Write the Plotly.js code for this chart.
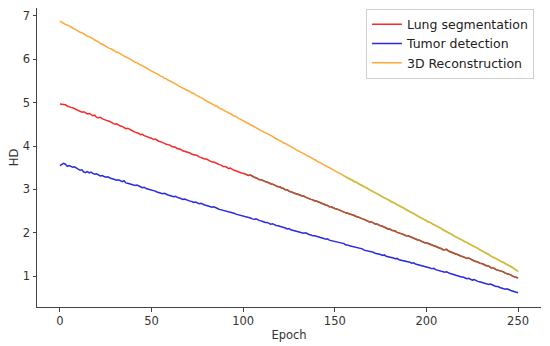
<!DOCTYPE html>
<html>
<head>
<meta charset="utf-8">
<script src="https://cdn.plot.ly/plotly-3.0.1.min.js"></script>
<style>html,body{margin:0;padding:0;background:#fff}#chart{width:550px;height:346px}</style>
</head>
<body>
<div id="chart"></div>
<script>
const seriesNames = ["Lung segmentation", "Tumor detection", "3D Reconstruction"];
const lungHD = [
4.97,4.96,4.95,4.95,4.92,4.90,4.89,4.88,4.86,4.85,
4.82,4.80,4.78,4.79,4.77,4.74,4.75,4.72,4.70,4.71,
4.66,4.65,4.66,4.63,4.61,4.60,4.58,4.57,4.55,4.53,
4.50,4.51,4.48,4.46,4.45,4.43,4.40,4.41,4.38,4.36,
4.34,4.32,4.31,4.29,4.26,4.27,4.24,4.22,4.21,4.19,
4.18,4.15,4.16,4.13,4.11,4.10,4.07,4.06,4.04,4.03,
4.02,3.99,3.98,3.97,3.94,3.93,3.92,3.89,3.88,3.86,
3.85,3.84,3.81,3.80,3.78,3.78,3.75,3.73,3.72,3.70,
3.70,3.67,3.66,3.63,3.63,3.60,3.59,3.57,3.56,3.53,
3.53,3.51,3.48,3.49,3.46,3.44,3.43,3.41,3.40,3.38,
3.37,3.35,3.34,3.32,3.33,3.30,3.28,3.27,3.25,3.22,
3.22,3.19,3.18,3.17,3.14,3.13,3.12,3.09,3.08,3.06,
3.06,3.03,3.02,2.99,2.99,2.96,2.95,2.93,2.91,2.90,
2.89,2.87,2.85,2.85,2.82,2.80,2.79,2.77,2.76,2.73,
2.73,2.71,2.70,2.67,2.66,2.64,2.63,2.60,2.60,2.57,
2.56,2.55,2.53,2.51,2.50,2.48,2.46,2.45,2.43,2.42,
2.41,2.38,2.37,2.36,2.33,2.32,2.31,2.28,2.27,2.25,
2.25,2.23,2.20,2.20,2.17,2.16,2.15,2.12,2.11,2.09,
2.09,2.06,2.05,2.04,2.01,2.00,1.98,1.97,1.95,1.93,
1.93,1.91,1.89,1.88,1.86,1.84,1.83,1.81,1.80,1.77,
1.77,1.75,1.73,1.72,1.70,1.69,1.66,1.65,1.64,1.61,
1.61,1.62,1.58,1.56,1.55,1.53,1.51,1.50,1.47,1.46,
1.45,1.43,1.41,1.42,1.39,1.37,1.35,1.34,1.33,1.30,
1.29,1.28,1.25,1.24,1.23,1.20,1.19,1.18,1.15,1.14,
1.13,1.11,1.10,1.07,1.06,1.04,1.03,1.00,0.99,0.97,0.96
];
const tumorHD = [
3.55,3.57,3.60,3.58,3.53,3.55,3.52,3.51,3.52,3.49,
3.47,3.44,3.45,3.40,3.39,3.41,3.38,3.40,3.37,3.35,
3.36,3.33,3.31,3.32,3.30,3.28,3.29,3.26,3.25,3.24,
3.23,3.21,3.22,3.19,3.18,3.20,3.15,3.14,3.13,3.12,
3.10,3.09,3.10,3.07,3.06,3.04,3.05,3.02,3.01,3.00,
2.98,2.97,2.96,2.94,2.93,2.92,2.90,2.91,2.88,2.87,
2.86,2.85,2.83,2.84,2.81,2.80,2.79,2.77,2.78,2.76,
2.74,2.73,2.72,2.70,2.71,2.68,2.67,2.68,2.65,2.64,
2.63,2.62,2.60,2.59,2.60,2.57,2.56,2.54,2.53,2.52,
2.51,2.50,2.48,2.47,2.47,2.45,2.43,2.42,2.41,2.40,
2.39,2.37,2.36,2.36,2.34,2.32,2.31,2.32,2.29,2.28,
2.27,2.25,2.24,2.24,2.22,2.20,2.21,2.18,2.17,2.16,
2.15,2.14,2.12,2.11,2.09,2.10,2.07,2.06,2.05,2.04,
2.03,2.02,2.00,1.99,2.00,1.97,1.96,1.95,1.93,1.93,
1.92,1.90,1.89,1.89,1.87,1.85,1.86,1.83,1.82,1.81,
1.80,1.79,1.78,1.76,1.75,1.75,1.72,1.72,1.70,1.69,
1.68,1.67,1.66,1.64,1.63,1.63,1.60,1.59,1.59,1.57,
1.56,1.55,1.53,1.52,1.52,1.50,1.48,1.49,1.46,1.45,
1.45,1.43,1.42,1.40,1.41,1.38,1.37,1.37,1.35,1.34,
1.33,1.32,1.30,1.31,1.28,1.27,1.26,1.25,1.23,1.22,
1.21,1.20,1.19,1.17,1.18,1.15,1.14,1.13,1.12,1.10,
1.09,1.10,1.07,1.06,1.05,1.03,1.02,1.01,0.99,0.98,
0.98,0.96,0.94,0.95,0.93,0.91,0.92,0.89,0.88,0.87,
0.86,0.85,0.84,0.82,0.81,0.82,0.79,0.78,0.76,0.76,
0.74,0.73,0.72,0.70,0.71,0.68,0.67,0.66,0.64,0.63,0.62
];
const reconHD = [
6.88,6.85,6.84,6.80,6.79,6.76,6.74,6.72,6.70,6.67,
6.65,6.62,6.61,6.58,6.56,6.53,6.52,6.49,6.47,6.44,
6.42,6.40,6.36,6.35,6.32,6.30,6.28,6.25,6.24,6.21,
6.19,6.16,6.15,6.12,6.10,6.07,6.05,6.03,6.01,5.98,
5.96,5.93,5.92,5.89,5.87,5.84,5.82,5.80,5.78,5.75,
5.73,5.71,5.68,5.66,5.64,5.61,5.60,5.56,5.55,5.52,
5.50,5.47,5.45,5.43,5.41,5.38,5.36,5.34,5.32,5.29,
5.27,5.25,5.22,5.21,5.18,5.16,5.13,5.11,5.09,5.06,
5.04,5.01,5.00,4.97,4.95,4.92,4.91,4.87,4.86,4.83,
4.81,4.79,4.76,4.74,4.72,4.69,4.68,4.65,4.63,4.60,
4.58,4.56,4.53,4.52,4.49,4.47,4.45,4.42,4.40,4.37,
4.35,4.33,4.30,4.29,4.26,4.24,4.22,4.19,4.17,4.14,
4.12,4.10,4.07,4.06,4.03,4.01,3.99,3.96,3.94,3.91,
3.89,3.87,3.84,3.82,3.80,3.77,3.76,3.73,3.71,3.68,
3.66,3.63,3.62,3.59,3.57,3.54,3.52,3.50,3.48,3.45,
3.43,3.40,3.39,3.36,3.34,3.31,3.29,3.27,3.25,3.22,
3.20,3.17,3.16,3.13,3.11,3.08,3.06,3.04,3.02,2.99,
2.97,2.94,2.93,2.90,2.88,2.85,2.83,2.81,2.79,2.76,
2.74,2.71,2.70,2.67,2.65,2.62,2.60,2.58,2.56,2.53,
2.51,2.48,2.47,2.44,2.42,2.39,2.37,2.35,2.33,2.30,
2.28,2.25,2.24,2.21,2.19,2.16,2.14,2.12,2.10,2.07,
2.05,2.02,2.01,1.98,1.96,1.93,1.91,1.89,1.87,1.84,
1.82,1.79,1.78,1.75,1.73,1.70,1.68,1.66,1.64,1.61,
1.59,1.56,1.55,1.52,1.50,1.47,1.45,1.43,1.41,1.38,
1.36,1.33,1.32,1.29,1.27,1.24,1.22,1.20,1.17,1.14,1.11
];
const epochs = lungHD.map((_, i) => i);
const xTicks = [0, 50, 100, 150, 200, 250];
const yTicks = [1, 2, 3, 4, 5, 6, 7];

// epochs where the reference image's line colour shifts
const lungShift = 102, reconShift = 155;

const traces = [
  {x: epochs, y: lungHD, name: seriesNames[0], mode: 'lines', line: {color: '#f52a2a', width: 1.5}},
  {x: epochs, y: tumorHD, name: seriesNames[1], mode: 'lines', line: {color: '#2a2ae0', width: 1.5}},
  {x: epochs, y: reconHD, name: seriesNames[2], mode: 'lines', line: {color: '#ffa838', width: 1.5}},
  {x: epochs.slice(lungShift), y: lungHD.slice(lungShift), mode: 'lines', showlegend: false, hoverinfo: 'skip',
   line: {color: '#a25c3a', width: 1.5}},
  {x: epochs.slice(reconShift), y: reconHD.slice(reconShift), mode: 'lines', showlegend: false, hoverinfo: 'skip',
   line: {color: '#c9c040', width: 1.5}}
];

const axisFont = {family: 'DejaVu Sans', size: 11.5, color: '#333'};
const layout = {
  width: 550, height: 346,
  margin: {l: 36.5, r: 9, t: 8, b: 39},
  paper_bgcolor: '#fff', plot_bgcolor: '#fff',
  font: axisFont,
  showlegend: true,
  xaxis: {
    range: [-12.5, 262.5], tickvals: xTicks, ticktext: xTicks.map(String),
    showgrid: false, zeroline: false, showline: true, linecolor: '#444', linewidth: 1,
    ticks: 'outside', ticklen: 3.5, tickcolor: '#444', tickfont: axisFont,
    title: {text: 'Epoch', font: axisFont, standoff: 3}
  },
  yaxis: {
    range: [0.29, 7.18], tickvals: yTicks, ticktext: yTicks.map(String),
    showgrid: false, zeroline: false, showline: true, linecolor: '#444', linewidth: 1,
    ticks: 'outside', ticklen: 3.5, tickcolor: '#444', tickfont: axisFont,
    title: {text: 'HD', font: axisFont, standoff: 1}
  },
  legend: {
    x: 0.986, y: 0.998, xanchor: 'right', yanchor: 'top',
    bgcolor: 'rgba(255,255,255,0.8)', bordercolor: '#d0d0d0', borderwidth: 1,
    font: {family: 'DejaVu Sans', size: 12.5, color: '#222'},
    itemwidth: 30, tracegroupgap: 0
  }
};
Plotly.newPlot('chart', traces, layout, {displayModeBar: false, staticPlot: true});
</script>
</body>
</html>
